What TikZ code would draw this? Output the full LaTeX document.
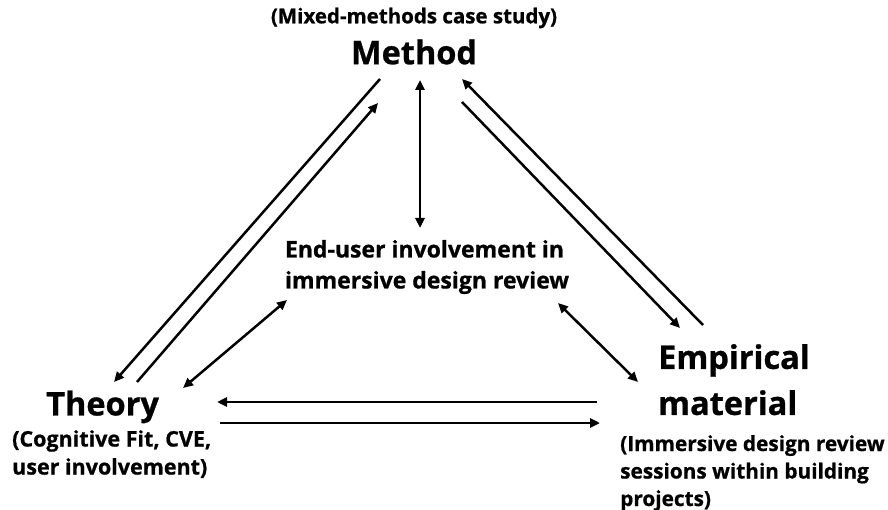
\documentclass[tikz,border=0pt]{standalone}
\usepackage{fontspec}
\setmainfont{Open Sans}[BoldFeatures={FakeBold=0.8}]
\usetikzlibrary{arrows.meta}
\begin{document}
\begin{tikzpicture}[x=1pt,y=-1pt,
  big/.style={font=\bfseries\fontsize{32.5}{46}\selectfont, inner sep=0pt, align=left},
  note/.style={font=\bfseries\fontsize{19.5}{28}\selectfont, inner sep=0pt, align=left},
  core/.style={font=\bfseries\fontsize{23}{31}\selectfont, inner sep=0pt, align=left},
  link/.style={line width=2.5pt, -{Triangle[length=10pt,width=9pt]}},
  twoway/.style={line width=2.5pt, {Triangle[length=10pt,width=9pt]}-{Triangle[length=10pt,width=9pt]}}]
\useasboundingbox (0,0) rectangle (888,510);

% labels
\node[note, font=\bfseries\fontsize{20.5}{28}\selectfont] (mnote) at (414,18) {(Mixed-methods case study)};
\node[big] (method) at (414,52) {Method};
\node[core] (centre) at (427,267) {End-user involvement in\\immersive design review};
\node[big, anchor=west] (theory) at (46,407) {Theory};
\node[note, font=\bfseries\fontsize{21.5}{28}\selectfont, anchor=north west] (tnote) at (12,430) {(Cognitive Fit, CVE,\\user involvement)};
\node[big, anchor=north west] (emp) at (658,344) {Empirical\\material};
\node[note, font=\bfseries\fontsize{20.8}{27.5}\selectfont, anchor=north west] (enote) at (620,435) {(Immersive design review\\sessions within building\\projects)};

% connector end points
\coordinate (mt1) at (380,79);   \coordinate (tm1) at (114,382);
\coordinate (tm2) at (137,382);  \coordinate (mt2) at (378,103);
\coordinate (mc) at (420,80);    \coordinate (cm) at (420,228);
\coordinate (ct) at (287,300);   \coordinate (tc) at (183,388);
\coordinate (em1) at (703,325);  \coordinate (me1) at (462,79);
\coordinate (me2) at (462,102);  \coordinate (em2) at (680,328);
\coordinate (ce) at (558,303);   \coordinate (ec) at (638,382);
\coordinate (et) at (597,402);   \coordinate (te) at (217,402);
\coordinate (te2) at (220,423);  \coordinate (et2) at (600,423);

% connectors
\draw[link] (mt1) -- (tm1);
\draw[link] (tm2) -- (mt2);
\draw[twoway] (mc) -- (cm);
\draw[twoway] (ct) -- (tc);
\draw[link] (em1) -- (me1);
\draw[link] (me2) -- (em2);
\draw[twoway] (ce) -- (ec);
\draw[link] (et) -- (te);
\draw[link] (te2) -- (et2);
\end{tikzpicture}
\end{document}
